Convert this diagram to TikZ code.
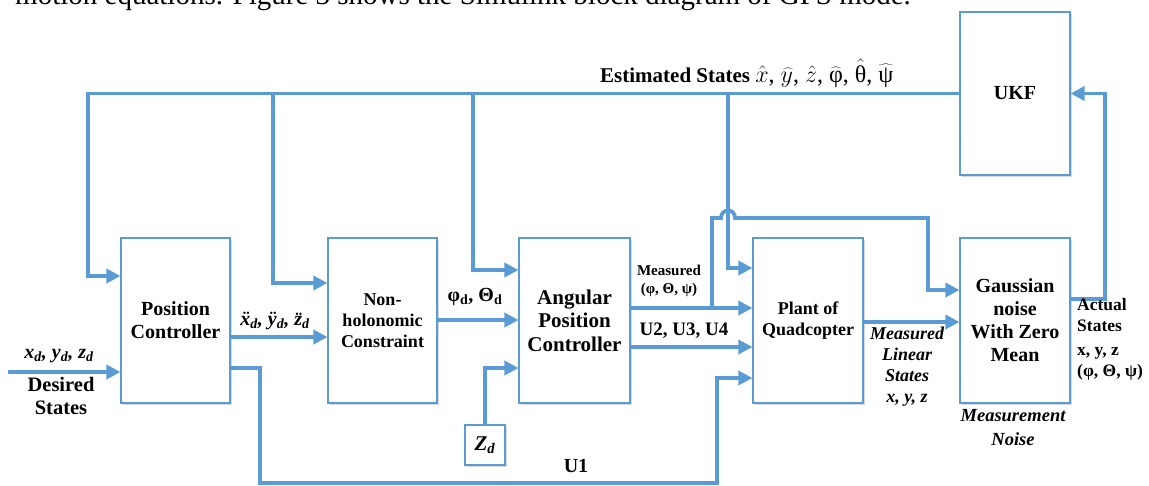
\documentclass[tikz,border=0pt]{standalone}
\usepackage{fix-cm}
\usepackage{fontspec}
\setmainfont{Liberation Serif}
\usetikzlibrary{arrows.meta,shadows}
\definecolor{linkblue}{HTML}{5B9BD5}

\tikzset{
  block/.style={draw=linkblue, line width=1.1pt, fill=white, align=center,
    minimum width=110pt, minimum height=165pt, inner sep=0pt,
    drop shadow={shadow xshift=1.5pt, shadow yshift=-1.5pt, opacity=0.25, fill=black!60}},
  wire/.style={draw=linkblue, line width=3.8pt},
  feed/.style={wire, -{Triangle[length=14pt,width=14pt]}},
  fbig/.style={font=\fontsize{20}{23}\selectfont\bfseries},
  lbl/.style={font=\fontsize{18}{21}\selectfont\bfseries, align=center, inner sep=0pt},
  ilbl/.style={font=\fontsize{18}{21}\selectfont\bfseries\itshape, align=center, inner sep=0pt},
}

\begin{document}
\begin{tikzpicture}[x=1pt, y=-1pt]
  \useasboundingbox (0,0) rectangle (1149,485);
  \clip (0,0) rectangle (1149,485);

  % running text line above the figure
  \node[anchor=base west, inner sep=0pt, font=\fontsize{29}{32}\selectfont] (caption) at (15,4)
    {motion equations. Figure 3 shows the Simulink block diagram of GPS mode.};

  % blocks
  \node[block, fbig, minimum width=109pt] (pc)  at (175.5,320.5) {Position\\Controller};
  \node[block, font=\fontsize{18}{21}\selectfont\bfseries, minimum width=109pt] (nh) at (382.5,320.5) {Non-\\holonomic\\Constraint};
  \node[block, minimum width=111pt, font=\fontsize{21}{23.5}\selectfont\bfseries] (ang) at (574.5,320.5) {Angular\\Position\\Controller};
  \node[block, font=\fontsize{18}{21}\selectfont\bfseries] (pl)  at (808,320.5) {Plant of\\Quadcopter};
  \node[block, font=\fontsize{20}{23}\selectfont\bfseries] (gn)  at (1015,320.5) {Gaussian\\noise\\With Zero\\Mean};
  \node[block, font=\fontsize{20}{23}\selectfont\bfseries, minimum height=163pt] (ukf) at (1015,93.5) {UKF};
  \node[block, minimum width=40pt, minimum height=40pt,
        font=\fontsize{21}{22}\selectfont\bfseries\itshape] (zd) at (485,445) {Z\textsubscript{d}};

  % named points on the wiring
  \coordinate (src) at (8,372);
  \coordinate (pcA) at (88,276);
  \coordinate (t1)  at (273,93.5);
  \coordinate (nhA) at (0,283);
  \coordinate (t2)  at (473,93.5);
  \coordinate (angA) at (0,270);
  \coordinate (t3)  at (728,93.5);
  \coordinate (plA) at (0,268);
  \coordinate (accY) at (0,337);
  \coordinate (phY) at (0,320);
  \coordinate (msY) at (0,308);
  \coordinate (ms)  at (712,308);
  \coordinate (uY)  at (0,347);
  \coordinate (zY)  at (0,368);
  \coordinate (u1o) at (0,368);
  \coordinate (u1i) at (0,378);
  \coordinate (linY) at (0,322);
  \coordinate (gnA) at (0,290);
  \coordinate (gnO) at (0,299);
  \coordinate (fb)  at (1105,299);

  % estimated-state bus from the UKF
  \draw[feed] (ukf.west) -| (pcA) -- (pc.west |- pcA);
  \draw[feed] (t1) |- (nh.west |- nhA);
  \draw[feed] (t2) |- (ang.west |- angA);
  \draw[feed] (t3) |- (pl.west |- plA);

  % forward path
  \draw[feed] (src) -- (pc.west |- src);
  \draw[feed] (pc.east |- accY) -- (nh.west |- accY);
  \draw[feed] (nh.east |- phY) -- (ang.west |- phY);
  \draw[feed] (ang.east |- msY) -- (pl.west |- msY);
  \draw[feed] (ang.east |- uY) -- (pl.west |- uY);
  \draw[feed] (zd.north) |- (ang.west |- zY);
  \draw[feed] (pc.east |- u1o) -- (260,368) -- (260,483) -- (717,483) -- (717,378) -- (pl.west |- u1i);
  \draw[feed] (pl.east |- linY) -- (gn.west |- linY);

  % measured attitude to the noise block, hopping over the bus drop
  \draw[feed] (ms) -- (712,218) -- (721,218)
    .. controls (721,208) and (735,208) .. (735,218) -- (928,218) -- (928,290) -- (gn.west |- gnA);

  % actual states back to the UKF
  \draw[feed] (gn.east |- gnO) -- (fb) |- (ukf.east);

  % labels
  \node[inner sep=0pt, anchor=base west] (est) at (600,82)
    {\fontsize{21}{24}\selectfont\textbf{Estimated States}\ \fontsize{24}{26}\selectfont
     $\hat{x}$, $\widehat{y}$, $\hat{z}$, $\widehat{\mbox{φ}}$, $\hat{\mbox{θ}}$, $\widehat{\mbox{ψ}}$};
  \node[ilbl, font=\fontsize{20}{22}\selectfont\bfseries\itshape] (xdl) at (59,356)
    {x\textsubscript{d}, y\textsubscript{d}, z\textsubscript{d}};
  \node[lbl, font=\fontsize{20.5}{23}\selectfont\bfseries] (des) at (61,396) {Desired\\States};
  \node[ilbl, font=\fontsize{20}{22}\selectfont\bfseries\itshape] (acc) at (275,321)
    {\"x\textsubscript{d}, \"y\textsubscript{d}, \"z\textsubscript{d}};
  \node[lbl, font=\fontsize{20}{22}\selectfont\bfseries] (phl) at (475,297) {φ\textsubscript{d}, Θ\textsubscript{d}};
  \node[lbl, font=\fontsize{15}{18}\selectfont\bfseries] (msl) at (669,281) {Measured\\(φ, Θ, ψ)};
  \node[lbl, font=\fontsize{19}{21}\selectfont\bfseries] (u234) at (684,331) {U2, U3, U4};
  \node[lbl, font=\fontsize{20}{22}\selectfont\bfseries] (u1l) at (576,466) {U1};
  \node[ilbl] (linl) at (907,367) {Measured\\Linear\\States\\x, y, z};
  \node[ilbl, font=\fontsize{18.5}{24}\selectfont\bfseries\itshape] (mnl) at (1013,428) {Measurement\\Noise};
  \node[lbl, font=\fontsize{17.5}{21}\selectfont\bfseries, align=left, anchor=north west] (actl) at (1077,298)
    {Actual\\States\\[3pt]x, y, z\\(φ, Θ, ψ)};
\end{tikzpicture}
\end{document}
